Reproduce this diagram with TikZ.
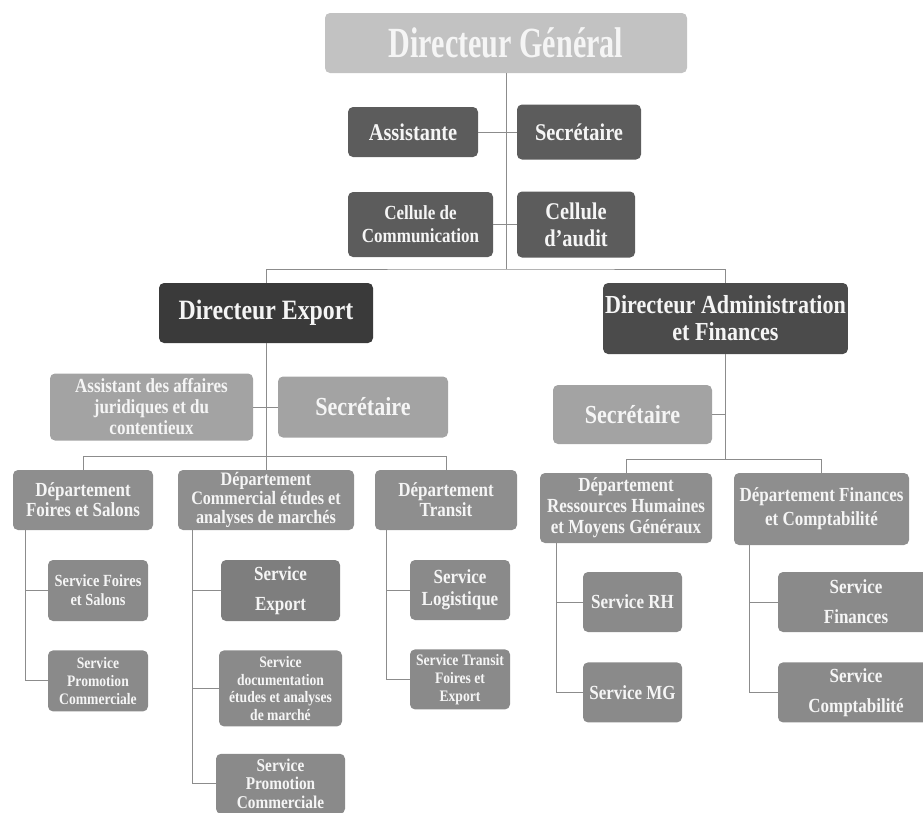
\documentclass[tikz,border=0pt]{standalone}
\usepackage{fontspec}
\setmainfont{Liberation Serif}[FakeStretch=0.85]
\newfontfamily\narrowserif{Liberation Serif}[FakeStretch=0.7]
\usetikzlibrary{positioning}
\definecolor{dgfill}{HTML}{C2C2C2}
\definecolor{stafffill}{HTML}{5C5C5C}
\definecolor{dexpfill}{HTML}{3A3A3A}
\definecolor{daffill}{HTML}{4B4B4B}
\definecolor{aidefill}{HTML}{A3A3A3}
\definecolor{deptfill}{HTML}{8E8E8E}
\definecolor{servfill}{HTML}{8A8A8A}
\definecolor{servdark}{HTML}{7E7E7E}
\definecolor{linegray}{HTML}{8C8C8C}
\definecolor{boxtext}{HTML}{F5F5F5}
\newcommand{\fs}[2]{\fontsize{#1}{#2}\selectfont}

\begin{document}
\begin{tikzpicture}[x=1pt,y=-1pt,node distance=29pt,
    box/.style={rounded corners=5pt,text=boxtext,align=center,inner sep=2pt},
    top/.style={box,fill=dgfill,font=\narrowserif\bfseries\fs{43}{44}},
    staff/.style={box,fill=stafffill,font=\bfseries\fs{24}{27}},
    head/.style={box,fill=daffill,font=\bfseries\fs{26}{27}},
    aide/.style={box,fill=aidefill,font=\bfseries\fs{26}{28}},
    dept/.style={box,fill=deptfill,font=\bfseries\fs{20}{20}},
    serv/.style={box,fill=servfill,font=\bfseries\fs{16}{18}},
    link/.style={draw=linegray,line width=1pt}]
    \useasboundingbox (0,0) rectangle (923,812);
    \clip (0,0) rectangle (923,812);
    % direction generale
    \node[top,minimum width=362pt,minimum height=60pt] (dg) at (506,43) {Directeur Général};
    \node[staff,minimum width=130pt,minimum height=50pt] (asst) at (413,132) {Assistante};
    \node[staff,minimum width=124pt,minimum height=55pt] (secg) at (579,132) {Secrétaire};
    \node[staff,minimum width=145pt,minimum height=65pt,font=\bfseries\fs{20}{23}] (cellcom) at (420.5,224.5) {Cellule de\\Communication};
    \node[staff,minimum width=118pt,minimum height=66pt] (cellaud) at (576,224.5) {Cellule\\d'audit};
    \node[head,fill=dexpfill,minimum width=214pt,minimum height=60pt,font=\bfseries\fs{28}{30}] (dexp) at (266,313) {Directeur Export};
    \node[head,minimum width=243pt,minimum height=71pt] (daf) at (725.5,318.5) {Directeur Administration\\et Finances};
    \coordinate (hub) at (506,269);
    \draw[link] (dg.south) -- (hub);
    \draw[link] (dexp.north) |- (hub) -| (daf.north);
    \draw[link] (asst.east) -- (secg.west);
    \draw[link] (cellcom.east) -- (cellaud.west);
    % export
    \node[aide,minimum width=203pt,minimum height=67pt,font=\bfseries\fs{20}{21}] (ajur) at (151.5,407) {Assistant des affaires\\juridiques et du\\contentieux};
    \node[aide,minimum width=170pt,minimum height=61pt] (secexp) at (363,407) {Secrétaire};
    \node[dept,minimum width=140pt,minimum height=60pt] (dfoires) at (83,500) {Département\\Foires et Salons};
    \node[dept,minimum width=176pt,minimum height=60pt,font=\bfseries\fs{19}{19}] (dcomm) at (266,500) {Département\\Commercial études et\\analyses de marchés};
    \node[dept,minimum width=142pt,minimum height=60pt] (dtrans) at (446,500) {Département\\Transit};
    \coordinate (ehub) at (266,456);
    \draw[link] (dexp.south) -- (ehub);
    \draw[link] (ajur.east) -- (secexp.west);
    \draw[link] (dfoires.north) |- (ehub) -| (dtrans.north);
    \draw[link] (dcomm.north) -- (ehub);
    % administration et finances
    \node[aide,minimum width=159pt,minimum height=59pt] (secdaf) at (632.5,414.5) {Secrétaire};
    \node[dept,minimum width=172pt,minimum height=70pt,font=\bfseries\fs{20}{21}] (drh) at (626,508) {Département\\Ressources Humaines\\et Moyens Généraux};
    \node[dept,minimum width=175pt,minimum height=72pt,font=\bfseries\fs{20}{24}] (dfin) at (821.5,509) {Département Finances\\et Comptabilité};
    \coordinate (fhub) at (725.5,459);
    \draw[link] (daf.south) -- (fhub);
    \draw[link] (secdaf.east) -- (secdaf.east -| fhub);
    \draw[link] (drh.north) |- (fhub) -| (dfin.north);
    % services
    \node[serv,minimum width=100pt,minimum height=61pt,font=\bfseries\fs{17}{19}] (sfoires) at (98,590.5) {Service Foires\\et Salons};
    \node[serv,below=of sfoires,minimum width=100pt,minimum height=61pt] (spromoa) {Service\\Promotion\\Commerciale};
    \node[serv,fill=servdark,minimum width=119pt,minimum height=61pt,font=\bfseries\fs{20}{30}] (sexport) at (280.5,590.5) {Service\\Export};
    \node[serv,below=of sexport,minimum width=123pt,minimum height=76pt,font=\bfseries\fs{16}{17.5}] (sdoc) {Service\\documentation\\études et analyses\\de marché};
    \node[serv,below=27pt of sdoc,minimum width=129pt,minimum height=60pt,font=\bfseries\fs{18}{18.5}] (spromob) {Service\\Promotion\\Commerciale};
    \node[serv,minimum width=100pt,minimum height=60pt,font=\bfseries\fs{20}{22}] (slog) at (460,590) {Service\\Logistique};
    \node[serv,below=of slog,minimum width=100pt,minimum height=60pt] (stransit) {Service Transit\\Foires et\\Export};
    \node[serv,minimum width=99pt,minimum height=60pt,font=\bfseries\fs{20}{22}] (srh) at (632.5,602) {Service RH};
    \node[serv,below=30pt of srh,minimum width=99pt,minimum height=60pt,font=\bfseries\fs{20}{22}] (smg) {Service MG};
    \node[serv,minimum width=156pt,minimum height=60pt,font=\bfseries\fs{20}{30}] (sfin) at (856,602) {Service\\Finances};
    \node[serv,below=30pt of sfin,minimum width=156pt,minimum height=60pt,font=\bfseries\fs{20}{30}] (scompt) {Service\\Comptabilité};
    \coordinate (spa) at ([xshift=13pt]dfoires.south west);
    \coordinate (spb) at ([xshift=15pt]dcomm.south west);
    \coordinate (spc) at ([xshift=12pt]dtrans.south west);
    \coordinate (spd) at ([xshift=17pt]drh.south west);
    \coordinate (spe) at ([xshift=16pt]dfin.south west);
    \draw[link] (spa) |- (spromoa.west);
    \draw[link] (spa |- sfoires.west) -- (sfoires.west);
    \draw[link] (spb) |- (spromob.west);
    \draw[link] (spb |- sexport.west) -- (sexport.west);
    \draw[link] (spb |- sdoc.west) -- (sdoc.west);
    \draw[link] (spc) |- (stransit.west);
    \draw[link] (spc |- slog.west) -- (slog.west);
    \draw[link] (spd) |- (smg.west);
    \draw[link] (spd |- srh.west) -- (srh.west);
    \draw[link] (spe) |- (scompt.west);
    \draw[link] (spe |- sfin.west) -- (sfin.west);
\end{tikzpicture}
\end{document}
